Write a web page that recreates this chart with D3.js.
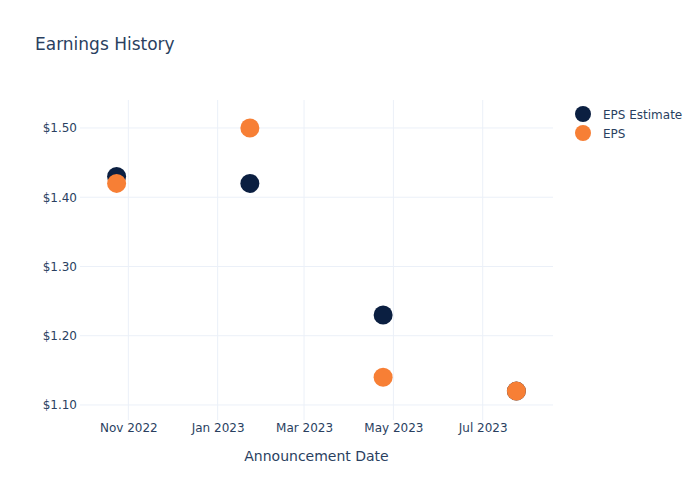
<!DOCTYPE html>
<html><head><meta charset="utf-8">
<script src="https://cdn.jsdelivr.net/npm/d3@7"></script>
<style>body{margin:0;background:#fff}svg,svg text{font-family:"DejaVu Sans",Verdana,sans-serif}</style>
</head><body>
<svg id="c" width="700" height="500"></svg>
<script>
const dates = ["2022-10-24","2023-01-23","2023-04-24","2023-07-24"];
const epsEstimate = [1.43, 1.42, 1.23, 1.12];
const eps = [1.42, 1.50, 1.14, 1.12];
const yTicks = [1.10, 1.20, 1.30, 1.40, 1.50];
const xTicks = ["2022-11-01","2023-01-01","2023-03-01","2023-05-01","2023-07-01"];
const seriesNames = ["EPS Estimate", "EPS"];
const colors = ["#0b1f41", "#f77f35"];

const parse = d3.utcParse("%Y-%m-%d");
const svg = d3.select("#c");
const L=80, R=553, T=100, B=420;
const x = d3.scaleUtc().domain([parse("2022-09-29"), parse("2023-08-18")]).range([L,R]);
const y = d3.scaleLinear().domain([1.0783, 1.5404]).range([B,T]);
const txt = "#2a3f5f", grid = "#ebf0f8";
const FONT = '"DejaVu Sans", Verdana, sans-serif';

// grid
svg.append("g").selectAll("line").data(xTicks).join("line")
  .attr("x1",d=>x(parse(d))).attr("x2",d=>x(parse(d))).attr("y1",T).attr("y2",B)
  .attr("stroke",grid).attr("stroke-width",1);
svg.append("g").selectAll("line").data(yTicks).join("line")
  .attr("x1",L).attr("x2",R).attr("y1",d=>y(d)).attr("y2",d=>y(d))
  .attr("stroke",grid).attr("stroke-width",1);

// axes
const xAxis = d3.axisBottom(x).tickValues(xTicks.map(parse)).tickFormat(d3.utcFormat("%b %Y")).tickSize(0).tickPadding(3);
const gx = svg.append("g").attr("transform",`translate(0,${B})`).call(xAxis).attr("font-family",FONT);
gx.select(".domain").remove();
gx.selectAll("text").attr("fill",txt).style("font-size","12px");
const yAxis = d3.axisLeft(y).tickValues(yTicks).tickFormat(d=>"$"+d3.format(".2f")(d)).tickSize(0).tickPadding(3);
const gy = svg.append("g").attr("transform",`translate(${L},0)`).call(yAxis).attr("font-family",FONT);
gy.select(".domain").remove();
gy.selectAll("text").attr("fill",txt).style("font-size","12px");

// points
[epsEstimate, eps].forEach((vals,i)=>{
  svg.append("g").selectAll("circle").data(vals).join("circle")
    .attr("cx",(d,j)=>x(parse(dates[j]))).attr("cy",d=>y(d)).attr("r",9.5)
    .attr("fill",colors[i]);
});

// title
svg.append("text").attr("x",35).attr("y",50).text("Earnings History")
  .attr("fill",txt).style("font-size","17px");
svg.append("text").attr("x",(L+R)/2).attr("y",461).attr("text-anchor","middle")
  .text("Announcement Date").attr("fill",txt).style("font-size","14px");

// legend
const lg = svg.append("g").selectAll("g").data(seriesNames).join("g")
  .attr("transform",(d,i)=>`translate(583,${114+i*19})`);
lg.append("circle").attr("r",8).attr("fill",(d,i)=>colors[i]);
lg.append("text").attr("x",20).attr("y",4.5).text(d=>d).attr("fill",txt).style("font-size","12px");
</script>
</body></html>
